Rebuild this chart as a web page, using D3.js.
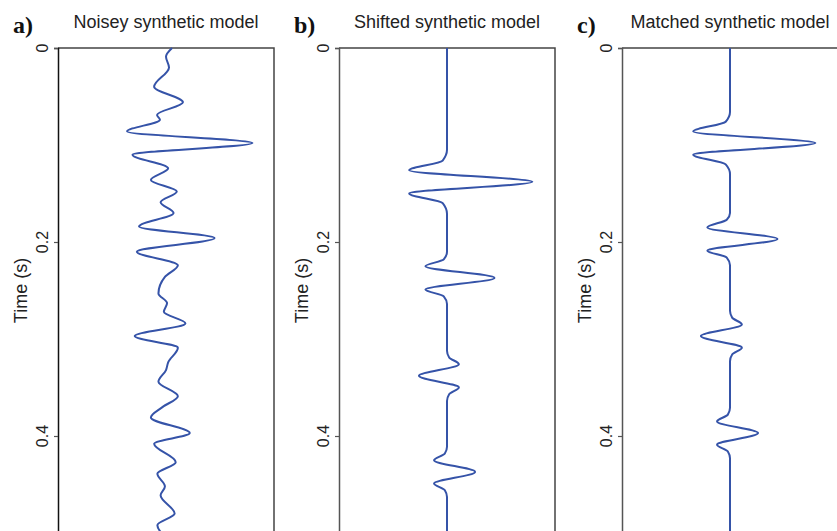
<!DOCTYPE html>
<html>
<head>
<meta charset="utf-8">
<script src="https://cdn.jsdelivr.net/npm/d3@7"></script>
<style>
  body { margin: 0; background: #fff; }
  svg { display: block; }
</style>
</head>
<body>
<svg id="svgID" width="837" height="531"></svg>
<script>
var panelLabels = ["a)", "b)", "c)"];
var panelTitles = ["Noisey synthetic model", "Shifted synthetic model", "Matched synthetic model"];
var timeTicks = [0, 0.2, 0.4];

// noisy trace (time in s, amplitude)
var noisyTime = [0, 0.009, 0.020, 0.040, 0.056, 0.069, 0.074, 0.086, 0.098, 0.110,
  0.124, 0.136, 0.148, 0.159, 0.170, 0.184, 0.196, 0.210, 0.224, 0.236,
  0.253, 0.263, 0.272, 0.284, 0.297, 0.309, 0.324, 0.332, 0.344, 0.359,
  0.370, 0.381, 0.397, 0.408, 0.427, 0.439, 0.452, 0.461, 0.480, 0.492, 0.505];
var noisyAmp = [0.056, 0, 0.028, -0.11, 0.157, -0.083, -0.056, -0.36, 0.80, -0.31,
  0.02, -0.14, 0.10, -0.05, 0.07, -0.25, 0.45, -0.27, 0.11, -0.01,
  -0.07, 0.01, -0.02, 0.18, -0.29, 0.11, 0.02, 0, -0.07, 0.11,
  -0.03, -0.14, 0.22, -0.11, 0.09, -0.08, -0.01, -0.05, 0.08, -0.08, 0];

// shifted trace
var shiftedTime = [0, 0.105, 0.116, 0.126, 0.138, 0.150, 0.160, 0.171,
  0.210, 0.218, 0.225, 0.237, 0.249, 0.256, 0.264,
  0.312, 0.319, 0.326, 0.338, 0.350, 0.357, 0.364,
  0.411, 0.418, 0.425, 0.437, 0.449, 0.456, 0.463, 0.505];
var shiftedAmp = [0, 0, -0.04, -0.35, 0.79, -0.35, -0.04, 0,
  0, -0.03, -0.20, 0.44, -0.20, -0.03, 0,
  0, 0.02, 0.11, -0.26, 0.11, 0.02, 0,
  0, -0.02, -0.12, 0.26, -0.12, -0.02, 0, 0];

// matched trace
var matchedTime = [0, 0.066, 0.076, 0.086, 0.098, 0.110, 0.120, 0.130,
  0.170, 0.177, 0.185, 0.197, 0.209, 0.216, 0.224,
  0.271, 0.278, 0.285, 0.297, 0.309, 0.316, 0.323,
  0.371, 0.378, 0.385, 0.397, 0.409, 0.416, 0.423, 0.505];
var matchedAmp = [0, 0, -0.04, -0.34, 0.79, -0.34, -0.04, 0,
  0, -0.03, -0.21, 0.44, -0.21, -0.03, 0,
  0, 0.02, 0.11, -0.27, 0.11, 0.02, 0,
  0, -0.02, -0.12, 0.26, -0.12, -0.02, 0, 0];

var traces = [
  {time: noisyTime, amp: noisyAmp},
  {time: shiftedTime, amp: shiftedAmp},
  {time: matchedTime, amp: matchedAmp}
];

var svg = d3.select("#svgID");
var panelLeft = [58, 339, 622];
var panelW = 216;
var plotTop = 48;
var plotH = 485;

var y = d3.scaleLinear().domain([0, 0.5]).range([plotTop, plotTop + plotH]);

panelLabels.forEach(function(lab, i) {
  var left = panelLeft[i];
  var x = d3.scaleLinear().domain([-1, 1]).range([left, left + panelW]);
  var g = svg.append("g");

  // frame: top and right
  g.append("path")
    .attr("d", "M" + left + "," + plotTop + "H" + (left + panelW) + "V" + (plotTop + plotH))
    .attr("fill", "none").attr("stroke", "#444").attr("stroke-width", 1.5);

  // left axis
  var ax = g.append("g").attr("transform", "translate(" + left + ",0)")
    .call(d3.axisLeft(y).tickValues(timeTicks).tickSize(4).tickFormat(""));
  ax.select(".domain").attr("stroke", i == 0 ? "#111" : "#555").attr("stroke-width", 1.5);
  ax.selectAll(".tick line").attr("stroke", "#555").attr("stroke-width", 1.2);

  timeTicks.forEach(function(t) {
    var tx = left - 10, ty = y(t);
    g.append("text").attr("x", tx).attr("y", ty)
      .attr("transform", "rotate(-90," + tx + "," + ty + ")")
      .attr("text-anchor", "middle")
      .style("font-family", "Liberation Sans, Arial, sans-serif")
      .style("font-size", "16px").attr("fill", "#222")
      .text(t == 0 ? "0" : d3.format(".1f")(t));
  });

  var lx = left - 31, ly = y(0.25);
  g.append("text").attr("x", lx).attr("y", ly)
    .attr("transform", "rotate(-90," + lx + "," + ly + ")")
    .attr("text-anchor", "middle")
    .style("font-family", "Liberation Sans, Arial, sans-serif")
    .style("font-size", "18px").attr("fill", "#222")
    .text("Time (s)");

  g.append("text").attr("x", left + panelW / 2).attr("y", 28)
    .attr("text-anchor", "middle")
    .style("font-family", "Liberation Sans, Arial, sans-serif")
    .style("font-size", "18px").attr("fill", "#222")
    .text(panelTitles[i]);

  g.append("text").attr("x", left - 45).attr("y", 33)
    .style("font-family", "Liberation Serif, Times New Roman, serif")
    .style("font-size", "24px").style("font-weight", "bold").attr("fill", "#111")
    .text(lab);

  // the trace
  var tr = traces[i];
  var pts = tr.time.map(function(t, k) { return [tr.amp[k], t]; });
  var line = d3.line()
    .x(function(d) { return x(d[0]); })
    .y(function(d) { return y(d[1]); })
    .curve(d3.curveMonotoneY);
  g.append("path").datum(pts)
    .attr("d", line)
    .attr("fill", "none").attr("stroke", "#3553a8").attr("stroke-width", 2);
});
</script>
</body>
</html>
